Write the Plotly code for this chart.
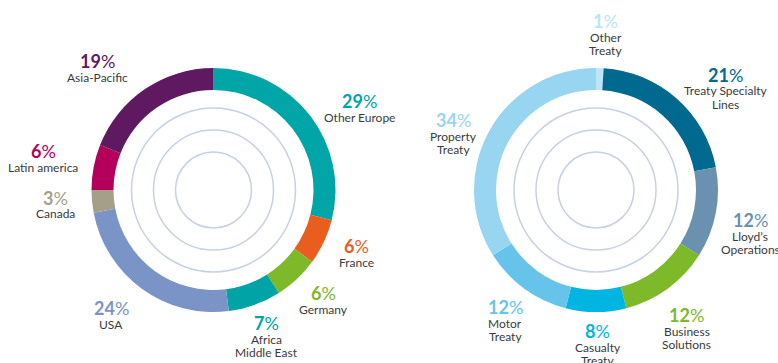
import plotly.graph_objects as go

W, H = 778, 363

# Region split (left donut), clockwise from 12 o'clock
region_labels = ["Other Europe", "France", "Germany", "Africa<br>Middle East",
                 "USA", "Canada", "Latin america", "Asia-Pacific"]
region_values = [29, 6, 6, 7, 24, 3, 6, 19]
region_colors = ["#00A5A8", "#E95E1E", "#7DB928", "#00A4A6",
                 "#7B94C7", "#A59F8A", "#B4005A", "#5F1961"]

# Line-of-business split (right donut), clockwise from 12 o'clock
line_labels = ["Other<br>Treaty", "Treaty Specialty<br>Lines", "Lloyd’s<br>Operations",
               "Business<br>Solutions", "Casualty<br>Treaty", "Motor<br>Treaty",
               "Property<br>Treaty"]
line_values = [1, 21, 12, 12, 8, 12, 34]
line_colors = ["#BEE4F7", "#00698F", "#6B91B0", "#7DB928",
               "#00B5E2", "#66C3EA", "#98D5F1"]

# Layout geometry (pixels)
donuts = [
    dict(cx=213.5, cy=190, r=122, labels=region_labels, values=region_values,
         colors=region_colors,
         label_pos=[(359.5, 101), (356, 246), (323, 293), (266, 323),
                    (111, 308), (55.5, 197.5), (43, 151), (97.5, 61)]),
    dict(cx=596, cy=190, r=122, labels=line_labels, values=line_values,
         colors=line_colors,
         label_pos=[(605.5, 21), (725.5, 75), (750, 220), (686.5, 315),
                    (597.5, 331), (505, 307), (453.5, 120)]),
]
hole_ratio = 100 / 122
ring_radii = [38, 60, 82]
ring_color = "#C6D1E1"
text_color = "#3A3A3A"
FONT = "Lato"

fig = go.Figure()
shapes = []
annotations = []

for d in donuts:
    cx, cy, r = d["cx"], d["cy"], d["r"]
    fig.add_trace(go.Pie(
        values=d["values"],
        labels=[l.replace("<br>", " ") for l in d["labels"]],
        marker=dict(colors=d["colors"], line=dict(width=0)),
        hole=hole_ratio,
        sort=False,
        direction="clockwise",
        rotation=0,
        textinfo="none",
        hoverinfo="label+percent",
        showlegend=False,
        domain=dict(x=[(cx - r) / W, (cx + r) / W],
                    y=[(H - cy - r) / H, (H - cy + r) / H]),
    ))
    for rr in ring_radii:
        shapes.append(dict(
            type="circle", xref="paper", yref="paper",
            x0=(cx - rr) / W, x1=(cx + rr) / W,
            y0=(H - cy - rr) / H, y1=(H - cy + rr) / H,
            line=dict(color=ring_color, width=1.5),
        ))
    for lab, val, col, (px, py) in zip(d["labels"], d["values"], d["colors"], d["label_pos"]):
        annotations.append(dict(
            x=px / W, y=1 - py / H, xref="paper", yref="paper",
            xanchor="center", yanchor="middle", showarrow=False,
            text=f"<b>{val}</b>%",
            font=dict(family=FONT, size=18, color=col),
        ))
        for i, part in enumerate(lab.split("<br>")):
            ly = py + 16 + 13 * i
            annotations.append(dict(
                x=px / W, y=1 - ly / H, xref="paper", yref="paper",
                xanchor="center", yanchor="middle", showarrow=False,
                text=part,
                font=dict(family=FONT, size=12, color=text_color),
            ))

fig.update_layout(
    width=W, height=H,
    margin=dict(l=0, r=0, t=0, b=0),
    paper_bgcolor="white", plot_bgcolor="white",
    shapes=shapes, annotations=annotations,
)

fig.write_html("out.html")
